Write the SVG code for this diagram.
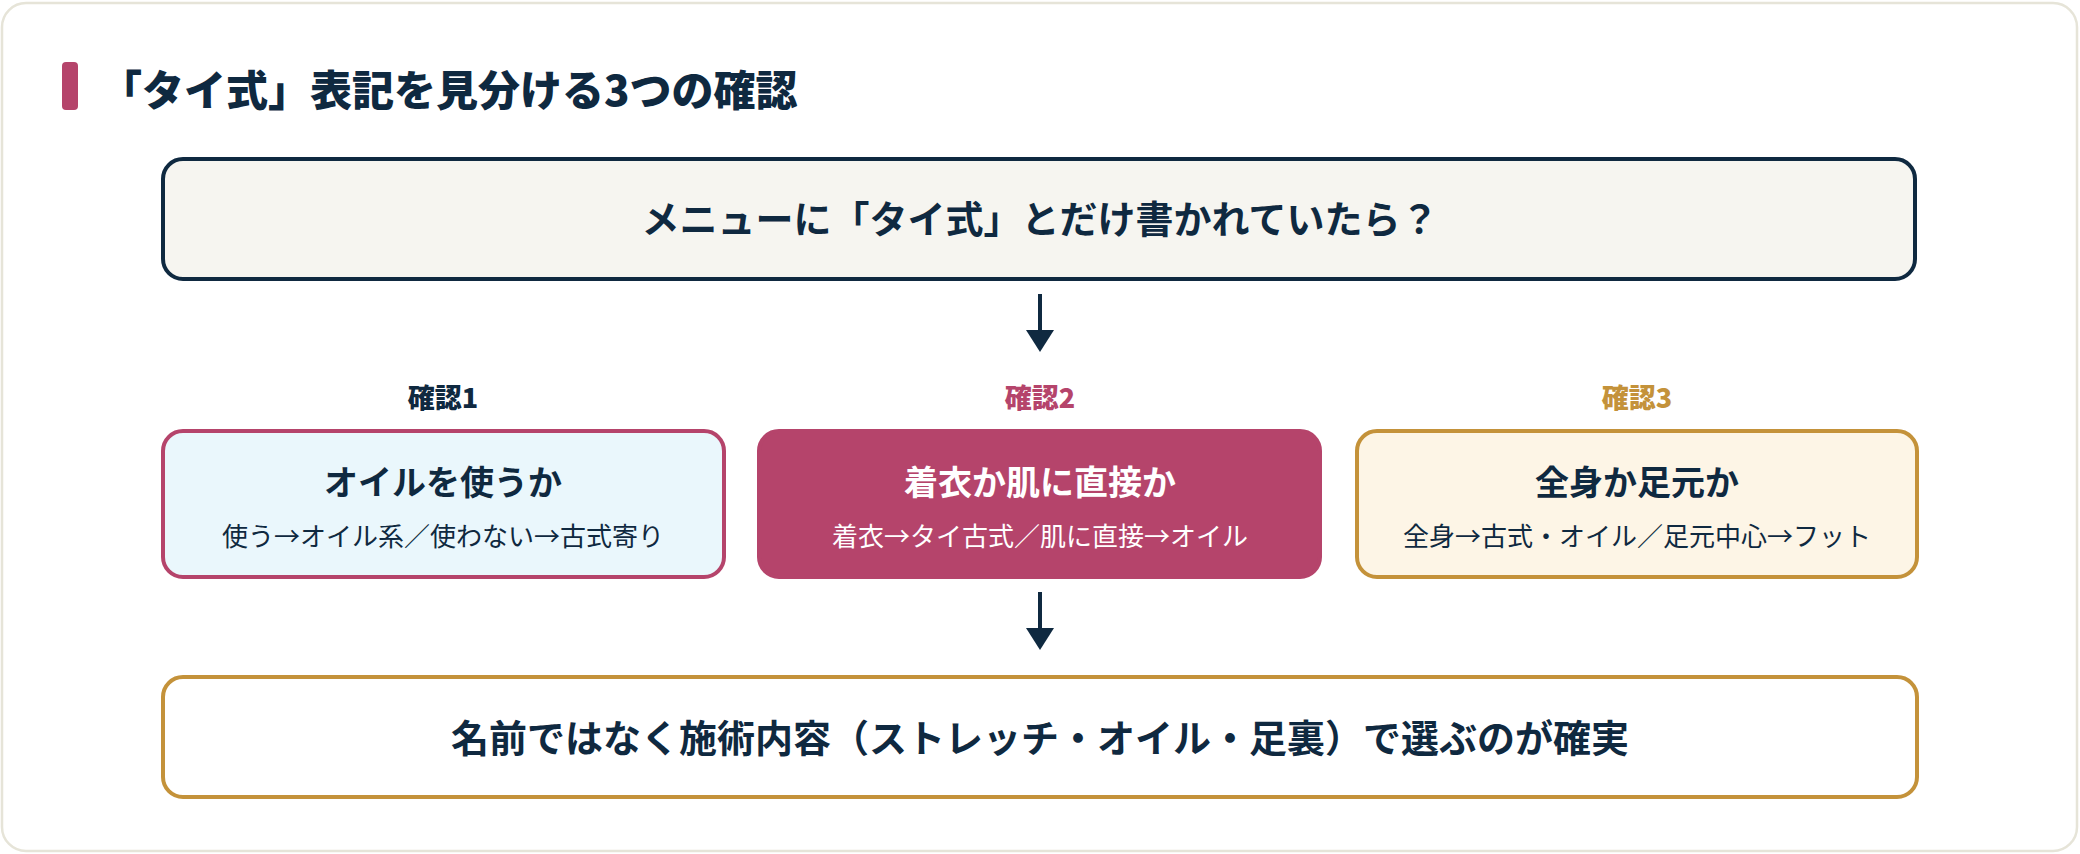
<svg xmlns="http://www.w3.org/2000/svg" width="2080" height="854" viewBox="0 0 2080 854">
<style>
text{font-family:"Noto Sans CJK JP","Noto Sans",sans-serif;text-anchor:middle}
.b{font-weight:700}
.navy{fill:#0f2940}
.pink{fill:#b5446b}
.gold{fill:#c4923a}
.white{fill:#ffffff}
.ttl{font-size:34px;font-weight:700}
.sub{font-size:26px;font-weight:400}
.lab{font-size:27px;font-weight:900}
.main{font-size:38px;font-weight:700}
</style>
<rect x="0" y="0" width="2080" height="854" fill="#ffffff"/>
<rect x="2" y="3" width="2075" height="848" rx="24" fill="#ffffff" stroke="#e6e4d8" stroke-width="2.5"/>
<g id="title">
<rect x="62" y="62" width="16" height="48" rx="4" fill="#b5446b"/>
<text x="100" y="106" class="navy" style="text-anchor:start;font-size:42px;font-weight:900">「タイ式」表記を見分ける3つの確認</text>
</g>
<g id="connectors">
<line x1="1040" y1="294" x2="1040" y2="331" stroke="#0f2940" stroke-width="4"/>
<path d="M1026,330 L1054,330 L1040,352 Z" fill="#0f2940"/>
<line x1="1040" y1="592" x2="1040" y2="629" stroke="#0f2940" stroke-width="4"/>
<path d="M1026,628 L1054,628 L1040,650 Z" fill="#0f2940"/>
</g>
<g id="question">
<rect x="163" y="159" width="1752" height="120" rx="20" fill="#f6f5f0" stroke="#0f2940" stroke-width="4"/>
<text x="1040" y="233" class="main navy">メニューに「タイ式」とだけ書かれていたら？</text>
</g>
<g id="check1">
<text x="443" y="408" class="lab navy">確認1</text>
<rect x="163" y="431" width="561" height="146" rx="20" fill="#eaf7fc" stroke="#b5446b" stroke-width="4"/>
<text x="443" y="495" class="ttl navy">オイルを使うか</text>
<text x="443" y="546" class="sub navy">使う→オイル系／使わない→古式寄り</text>
</g>
<g id="check2">
<text x="1040" y="408" class="lab pink">確認2</text>
<rect x="759" y="431" width="561" height="146" rx="20" fill="#b5446b" stroke="#b5446b" stroke-width="4"/>
<text x="1040" y="495" class="ttl white">着衣か肌に直接か</text>
<text x="1040" y="546" class="sub white">着衣→タイ古式／肌に直接→オイル</text>
</g>
<g id="check3">
<text x="1637" y="408" class="lab gold">確認3</text>
<rect x="1357" y="431" width="560" height="146" rx="20" fill="#fdf5e6" stroke="#c4923a" stroke-width="4"/>
<text x="1637" y="495" class="ttl navy">全身か足元か</text>
<text x="1637" y="546" class="sub navy">全身→古式・オイル／足元中心→フット</text>
</g>
<g id="conclusion">
<rect x="163" y="677" width="1754" height="120" rx="20" fill="#ffffff" stroke="#c4923a" stroke-width="4"/>
<text x="1040" y="752" class="main navy">名前ではなく施術内容（ストレッチ・オイル・足裏）で選ぶのが確実</text>
</g>
</svg>
